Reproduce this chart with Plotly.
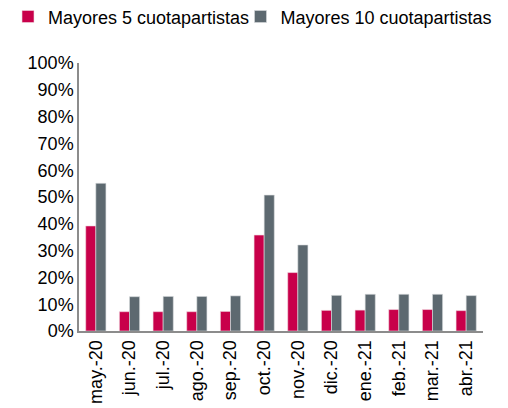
import plotly.graph_objects as go

categories = ["may.-20", "jun.-20", "jul.-20", "ago.-20", "sep.-20", "oct.-20",
              "nov.-20", "dic.-20", "ene.-21", "feb.-21", "mar.-21", "abr.-21"]
top5 = [39.2, 7.2, 7.2, 7.2, 7.3, 35.8, 21.8, 7.7, 7.8, 8.0, 8.0, 7.6]
top10 = [55.1, 12.8, 12.9, 12.9, 13.1, 50.7, 32.1, 13.3, 13.7, 13.7, 13.7, 13.2]
y_ticks = list(range(0, 101, 10))
y_labels = [f"{v}%" for v in y_ticks]

fig = go.Figure()
fig.add_trace(go.Bar(x=categories, y=top5, name="Mayores 5 cuotapartistas", legend="legend",
                     marker=dict(color="#C8004A", line=dict(color="#F0D8E0", width=0.6))))
fig.add_trace(go.Bar(x=categories, y=top10, name="Mayores 10 cuotapartistas", legend="legend2",
                     marker=dict(color="#5D6970", line=dict(color="#D8DCDE", width=0.6))))

leg_common = dict(orientation="h", xref="container", yref="container",
                  xanchor="left", yanchor="middle", font=dict(size=18),
                  itemwidth=30, bgcolor="rgba(0,0,0,0)")

fig.update_layout(
    width=500, height=400,
    margin=dict(l=71, r=25, t=55, b=77, autoexpand=False),
    paper_bgcolor="white", plot_bgcolor="white",
    font=dict(family="Liberation Sans, Arial, sans-serif", size=18, color="#000000"),
    barmode="group", bargap=0.4, bargroupgap=0.0,
    showlegend=True,
    legend=dict(x=0.0, y=0.978, **leg_common),
    legend2=dict(x=0.465, y=0.978, **leg_common),
)
fig.update_xaxes(showline=True, linecolor="#8C8C8C", linewidth=2, ticks="",
                 tickangle=-90, showgrid=False, tickfont=dict(size=18), automargin=False)
fig.update_yaxes(range=[0, 100], tickvals=y_ticks, ticktext=y_labels,
                 showline=True, linecolor="#8C8C8C", linewidth=1.5, ticks="",
                 showgrid=False, zeroline=False, tickfont=dict(size=18), automargin=False)

fig.write_html("out.html")
